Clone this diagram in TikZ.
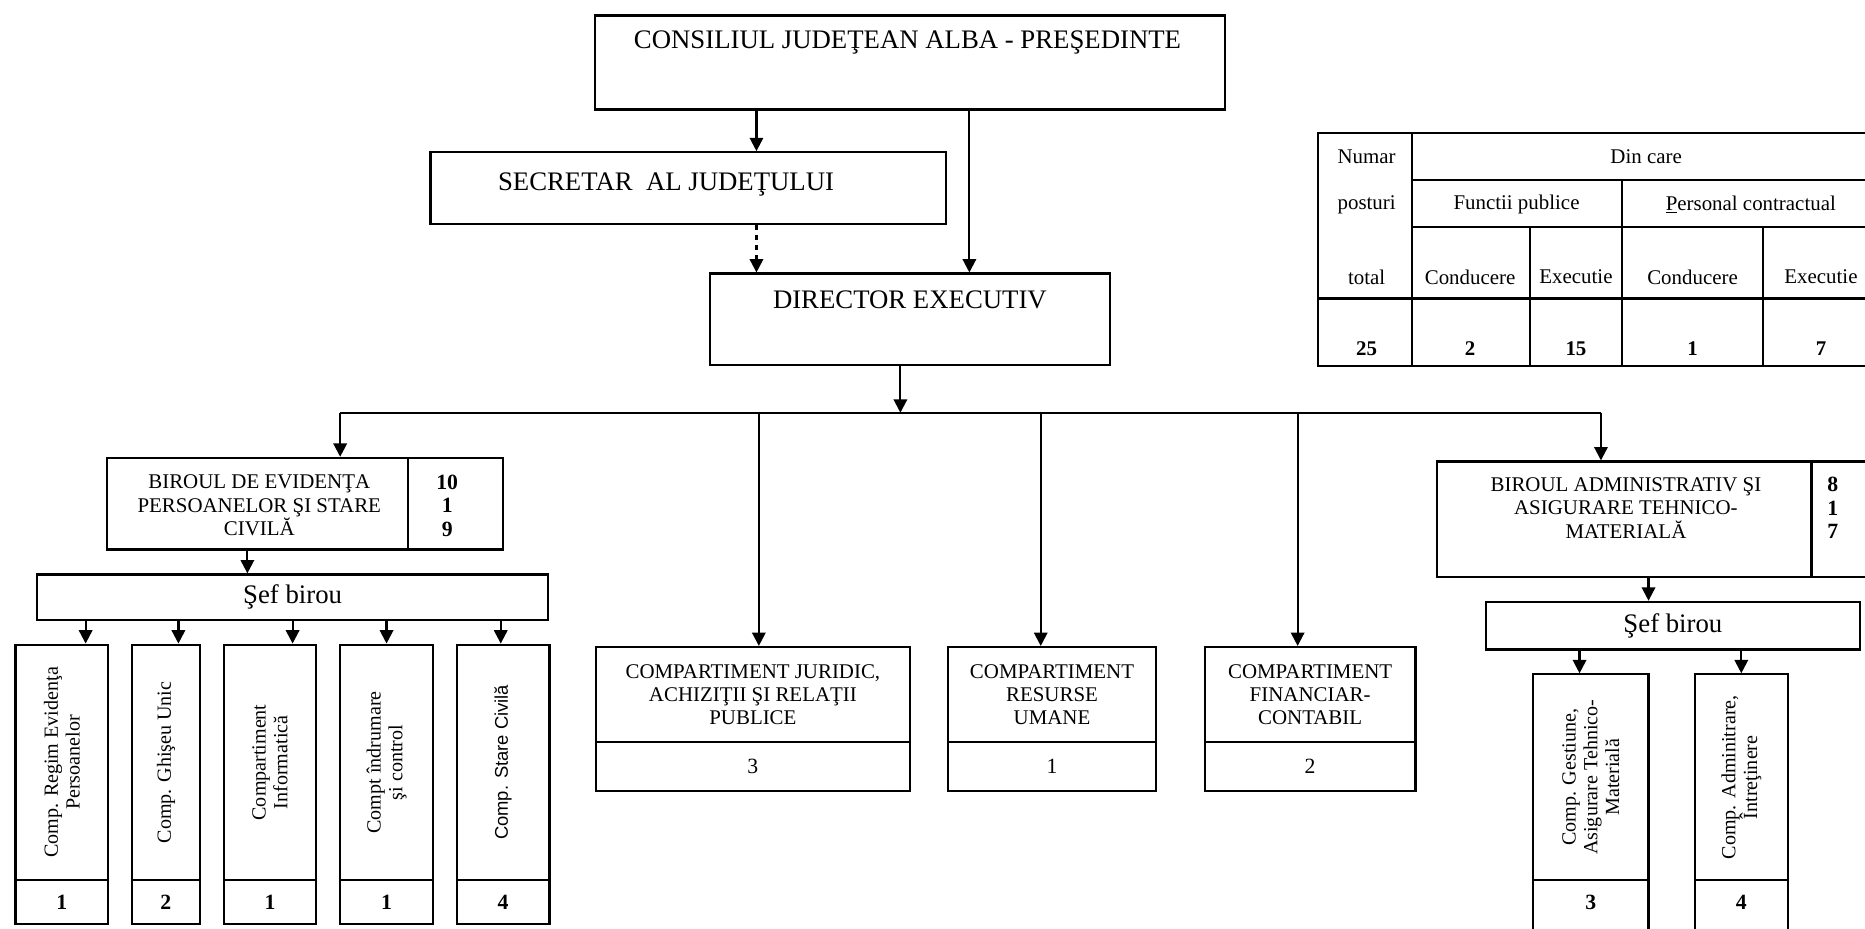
\documentclass[tikz,border=0pt]{standalone}
\usepackage{fontspec}
\setmainfont{Liberation Serif}
\newfontfamily\arialfont{Liberation Sans}
\usetikzlibrary{arrows.meta, fit}

\tikzset{
	caseta/.style={draw, line width=1.3pt, inner sep=0pt},
	sageata/.style={line width=1.3pt, -{Triangle[length=8pt, width=8pt]}},
	linie/.style={line width=1.3pt},
	titlu/.style={inner sep=0pt, font=\fontsize{16}{18}\selectfont},
	scris/.style={align=center, inner sep=0pt, font=\fontsize{12.5}{14}\selectfont},
	vertical/.style={rotate=90, align=center, inner sep=0pt, font=\fontsize{12}{13}\selectfont},
	cifra/.style={align=center, inner sep=0pt, font=\fontsize{13}{14}\selectfont\bfseries},
	tabel/.style={inner sep=0pt, font=\fontsize{12.5}{14}\selectfont},
}

\begin{document}
\begin{tikzpicture}[x=0.025cm, y=-0.025cm]

	\useasboundingbox (0,0) rectangle (1568,781);

	\node[caseta, fit={(500,13) (1030,92)}] (presedinte) {};
	\node[titlu] (presedintetext) at (763,36) {CONSILIUL JUDEŢEAN ALBA - PREŞEDINTE};
	\node[caseta, fit={(362,128) (795,188)}] (secretar) {};
	\node[titlu] (secretartext) at (560,155) {SECRETAR\ \ AL JUDEŢULUI};
	\node[caseta, fit={(597,230) (933,307)}] (director) {};
	\node[titlu] (directortext) at (765,252) {DIRECTOR EXECUTIV};

	\draw[sageata] (presedinte.south -| 636,0) -- (secretar.north -| 636,0);
	\draw[sageata] (presedinte.south -| 815,0) -- (director.north -| 815,0);
	\draw[sageata, dashed] (secretar.south -| 636,0) -- (director.north -| 636,0);

	\coordinate (magistrala) at (757,347);
	\coordinate (magistralastanga) at (286,347);
	\coordinate (magistraladreapta) at (1346,347);
	\draw[sageata] (director.south -| magistrala) -- (magistrala);
	\draw[linie] (magistralastanga) -- (magistraladreapta);

	\node[caseta, fit={(90,385) (343,462)}] (birouevidenta) {};
	\node[caseta, fit={(343,385) (423,462)}] (birouevidentanr) {};
	\node[scris] (birouevidentatext) at (218,425) {BIROUL DE EVIDENŢA\\PERSOANELOR ŞI STARE\\CIVILĂ};
	\node[cifra] (birouevidentacifre) at (376,425) {10\\1\\9};
	\node[caseta, fit={(31,483) (461,521)}] (sefstanga) {};
	\node[titlu] (sefstangatext) at (sefstanga.center) {Şef birou};
	\draw[sageata] (magistralastanga) -- (birouevidenta.north -| magistralastanga);
	\draw[sageata] (birouevidenta.south -| 208,0) -- (sefstanga.north -| 208,0);

	\foreach \xa/\xb/\xs/\nume/\nr [count=\i] in {13/91/72/{Comp. Regim Evidenţa\\Persoanelor}/1, 111/168/150/{Comp. Ghişeu Unic}/2, 188/266/246/{Compartiment\\Informatică}/1, 286/364/325/{Compt îndrumare\\şi control}/1, 384/462/421/{\arialfont\fontsize{11}{12}\selectfont Comp. Stare Civilă}/4}{
		\node[caseta, fit={(\xa,542) (\xb,740)}] (comp\i) {};
		\node[caseta, fit={(\xa,740) (\xb,777)}] (compnr\i) {};
		\node[vertical] (comptext\i) at (comp\i.center) {\nume};
		\node[cifra] (compcifra\i) at (compnr\i.center) {\nr};
		\draw[sageata] (sefstanga.south -| \xs,0) -- (comp\i.north -| \xs,0);
	}

	\foreach \xa/\xb/\xs/\nume/\nr [count=\i] in {501/765/638/{COMPARTIMENT JURIDIC,\\ACHIZIŢII ŞI RELAŢII\\PUBLICE}/3, 797/972/875/{COMPARTIMENT\\RESURSE\\UMANE}/1, 1013/1190/1091/{COMPARTIMENT\\FINANCIAR-\\CONTABIL}/2}{
		\node[caseta, fit={(\xa,544) (\xb,624)}] (compartiment\i) {};
		\node[caseta, fit={(\xa,624) (\xb,665)}] (compartimentnr\i) {};
		\node[scris] (compartimenttext\i) at (compartiment\i.center) {\nume};
		\node[scris, font=\fontsize{13}{15}\selectfont] (compartimentcifra\i) at (compartimentnr\i.center) {\nr};
		\draw[sageata] (magistrala -| \xs,0) -- (compartiment\i.north -| \xs,0);
	}

	\node[caseta, fit={(1208,388) (1523,485)}] (birouadmin) {};
	\node[caseta, fit={(1523,388) (1600,485)}] (birouadminnr) {};
	\node[scris] (birouadmintext) at (1367,427) {BIROUL ADMINISTRATIV ŞI\\ASIGURARE TEHNICO-\\MATERIALĂ};
	\node[cifra] (birouadmincifre) at (1541,427) {8\\1\\7};
	\node[caseta, fit={(1249,506) (1564,546)}] (sefdreapta) {};
	\node[titlu] (sefdreaptatext) at (sefdreapta.center) {Şef birou};
	\draw[sageata] (magistraladreapta) -- (birouadmin.north -| magistraladreapta);
	\draw[sageata] (birouadmin.south -| 1386,0) -- (sefdreapta.north -| 1386,0);

	\foreach \xa/\xb/\xs/\nume/\nr [count=\i] in {1289/1386/1328/{Comp. Gestiune,\\Asigurare Tehnico-\\Materială}/3, 1425/1503/1464/{Comp. Adminitrare,\\Întreţinere}/4}{
		\node[caseta, fit={(\xa,567) (\xb,740)}] (compadmin\i) {};
		\node[caseta, fit={(\xa,740) (\xb,800)}] (compadminnr\i) {};
		\node[vertical] (compadmintext\i) at (compadmin\i.center) {\nume};
		\node[cifra] (compadmincifra\i) at (\xa/2+\xb/2,759) {\nr};
		\draw[sageata] (sefdreapta.south -| \xs,0) -- (compadmin\i.north -| \xs,0);
	}

	\draw[linie] (1108,112) rectangle (1580,308);
	\draw[linie] (1187,112) -- (1187,308);
	\draw[linie] (1187,151) -- (1580,151);
	\draw[linie] (1187,191) -- (1580,191);
	\draw[linie] (1108,251) -- (1580,251);
	\draw[linie] (1364,151) -- (1364,308);
	\draw[linie] (1286,191) -- (1286,308);
	\draw[linie] (1482,191) -- (1482,308);

	\foreach \x/\y/\t [count=\i] in {1149/132/Numar, 1149/172/posturi, 1149/233/total, 1384/132/Din care, 1275/172/Functii publice, 1472/172/{\underline{P}ersonal contractual}, 1236/233/Conducere, 1325/233/Executie, 1423/233/Conducere, 1531/233/Executie}{
		\node[tabel] (celula\i) at (\x,\y) {\t};
	}
	\foreach \x/\t [count=\i] in {1149/25, 1236/2, 1325/15, 1423/1, 1531/7}{
		\node[tabel, font=\fontsize{12.5}{14}\selectfont\bfseries] (valoare\i) at (\x,293) {\t};
	}

\end{tikzpicture}
\end{document}
